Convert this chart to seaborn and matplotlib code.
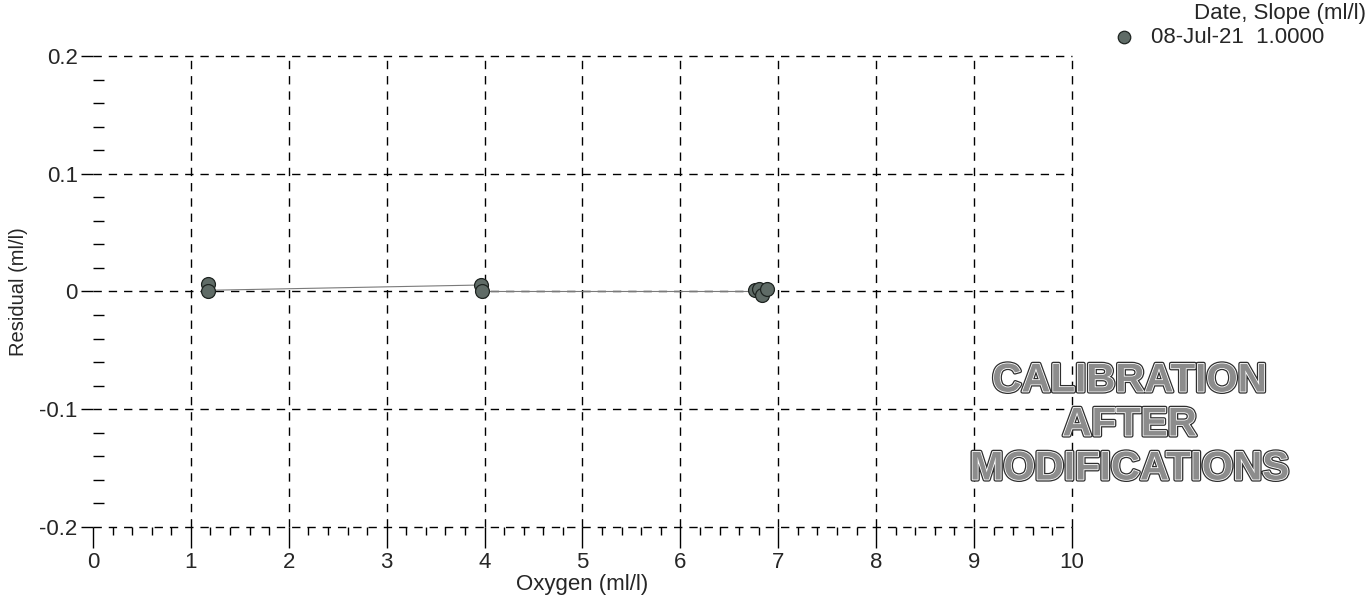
import matplotlib
matplotlib.use("Agg")
import matplotlib.pyplot as plt
import matplotlib.patheffects as pe
from matplotlib.ticker import MultipleLocator, FuncFormatter
import seaborn as sns
import pandas as pd

# data
oxygen = [1.17, 1.17, 3.96, 3.97, 6.76, 6.80, 6.83, 6.88]
residual = [0.006, 0.0, 0.0055, 0.0, 0.001, 0.002, -0.003, 0.002]
trend_x = [1.17, 3.96, 3.97, 6.80]
trend_y = [0.001, 0.0055, 0.0, 0.0]
series_label = "08-Jul-21  1.0000"
x_ticks = [0, 1, 2, 3, 4, 5, 6, 7, 8, 9, 10]
y_ticks = [-0.2, -0.1, 0, 0.1, 0.2]

df = pd.DataFrame({"Oxygen": oxygen, "Residual": residual})

sns.set_style("white")
plt.rcParams["font.family"] = ["Liberation Sans", "DejaVu Sans"]

fig = plt.figure(figsize=(13.72, 5.97), dpi=100)
ax = fig.add_axes([0.0678, 0.1173, 0.7135, 0.7889])

ax.plot(trend_x, trend_y, color="#7a7a7a", lw=0.8, zorder=2)
sns.scatterplot(data=df, x="Oxygen", y="Residual", ax=ax, s=100,
                color="#5f6b66", edgecolor="#1e2421", linewidth=0.9,
                label=series_label, zorder=3)

ax.set_xlim(0, 10)
ax.set_ylim(-0.2, 0.2)
for s in ax.spines.values():
    s.set_visible(False)

dash = dict(color="black", lw=1.0, ls=(0, (6, 5)), zorder=1, clip_on=False)
for y in y_ticks:
    ax.axhline(y, **dash)
for x in x_ticks[1:]:
    ax.axvline(x, **dash)

ax.set_xticks(x_ticks)
ax.set_yticks(y_ticks)
ax.xaxis.set_minor_locator(MultipleLocator(0.2))
ax.yaxis.set_minor_locator(MultipleLocator(0.02))
ax.yaxis.set_major_formatter(FuncFormatter(lambda v, p: "0" if abs(v) < 1e-9 else f"{v:.1f}"))
ax.tick_params(which="both", bottom=True, left=True, color="black")
ax.tick_params(axis="x", which="major", direction="out", length=15, width=1,
               labelsize=16, pad=3)
ax.tick_params(axis="x", which="minor", direction="out", length=6, width=1)
ax.tick_params(axis="y", which="major", direction="out", length=9, width=1,
               labelsize=16, pad=2)
ax.tick_params(axis="y", which="minor", direction="in", length=8, width=1)

ax.set_xlabel("Oxygen (ml/l)", fontsize=16, labelpad=1)
ax.set_ylabel("Residual (ml/l)", fontsize=14.5, labelpad=8)

leg = ax.legend(loc="upper left", bbox_to_anchor=(1102 / 1372, 1 - 27 / 597),
                bbox_transform=fig.transFigure, frameon=False, fontsize=16,
                handletextpad=0.2, markerscale=0.9, borderaxespad=0,
                borderpad=0)
fig.text(1366 / 1372, 1 - 14 / 597, "Date, Slope (ml/l)", ha="right",
         va="center", fontsize=16)

ax.text(10.59, -0.113, "CALIBRATION\nAFTER\nMODIFICATIONS",
        ha="center", va="center", fontsize=29, fontweight="bold",
        color="#8c8c8c", linespacing=1.2, clip_on=False,
        path_effects=[pe.Stroke(linewidth=3, foreground="#2e2e2e"),
                      pe.Stroke(linewidth=1.2, foreground="white"),
                      pe.Normal()])

fig.savefig("out.png", dpi=100)
